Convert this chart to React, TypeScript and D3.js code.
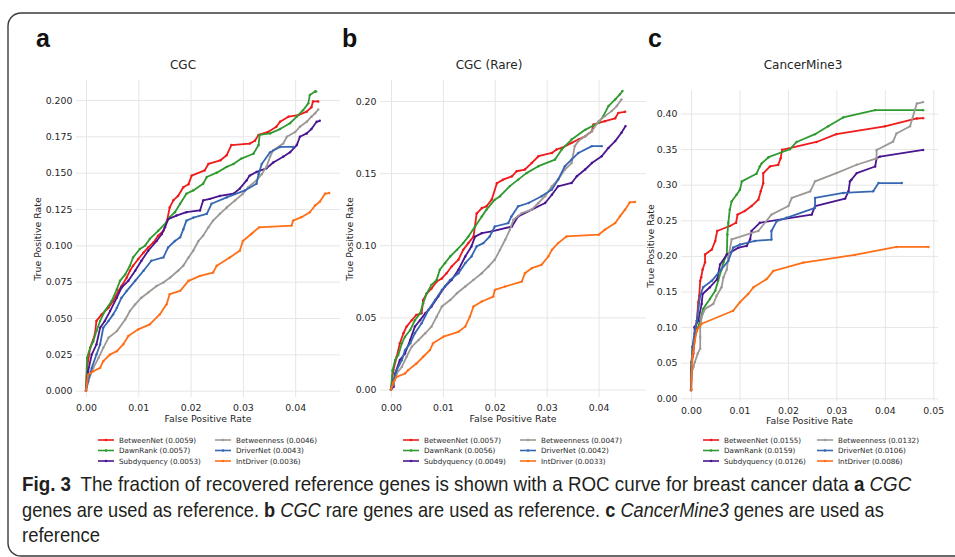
import React, { useRef, useEffect } from 'react';
import * as d3 from 'd3';

type Pt = [number, number];

// methods, in legend order (column-major), and their colours
const methods = ['BetweenNet', 'DawnRank', 'Subdyquency', 'Betweenness', 'DriverNet', 'IntDriver'];
const methodColors = ['#f01a1a', '#2f9a2f', '#4a1590', '#9d9894', '#3767b3', '#ff6f17'];

// partial AUC shown in the legends
const aucA = ['0.0059', '0.0057', '0.0053', '0.0046', '0.0043', '0.0036'];
const aucB = ['0.0057', '0.0056', '0.0049', '0.0047', '0.0042', '0.0033'];
const aucC = ['0.0155', '0.0159', '0.0126', '0.0132', '0.0106', '0.0086'];

// ticks
const xTicksAB = [0, 0.01, 0.02, 0.03, 0.04];
const xTicksC = [0, 0.01, 0.02, 0.03, 0.04, 0.05];
const yTicksA = [0, 0.025, 0.05, 0.075, 0.1, 0.125, 0.15, 0.175, 0.2];
const yTicksB = [0, 0.05, 0.1, 0.15, 0.2];
const yTicksC = [0, 0.05, 0.1, 0.15, 0.2, 0.25, 0.3, 0.35, 0.4];

// ---- panel a: CGC  ([fpr, tpr]) ----
const aBetweenNet: Pt[] = [[0,0],[0.0002,0.0157],[0.0008,0.0295],[0.0017,0.0387],[0.002,0.048],[0.003,0.0525],[0.0043,0.057],[0.0052,0.0617],[0.0062,0.0687],[0.0068,0.072],[0.0078,0.0779],[0.0084,0.0825],[0.009,0.086],[0.01,0.0906],[0.011,0.095],[0.0119,0.0986],[0.0129,0.102],[0.0138,0.1067],[0.0148,0.11],[0.0155,0.117],[0.016,0.126],[0.0167,0.131],[0.0176,0.134],[0.0186,0.14],[0.0196,0.142],[0.0202,0.148],[0.0227,0.1516],[0.0234,0.156],[0.0257,0.1585],[0.0269,0.162],[0.0278,0.169],[0.0313,0.17],[0.0323,0.172],[0.033,0.176],[0.0348,0.178],[0.0364,0.1816],[0.0371,0.185],[0.0387,0.1885],[0.0406,0.1896],[0.0422,0.192],[0.0431,0.195],[0.0434,0.199],[0.0444,0.199]];
const aDawnRank: Pt[] = [[0,0],[0.0002,0.0226],[0.0008,0.0295],[0.0014,0.034],[0.002,0.041],[0.0027,0.048],[0.0036,0.0548],[0.0049,0.0617],[0.0059,0.0698],[0.0065,0.0756],[0.0075,0.08],[0.0084,0.086],[0.009,0.0917],[0.0103,0.0975],[0.0113,0.0998],[0.0122,0.1044],[0.0138,0.11],[0.0154,0.116],[0.016,0.1194],[0.017,0.1228],[0.018,0.1286],[0.0192,0.1355],[0.0205,0.1378],[0.0224,0.1424],[0.0231,0.147],[0.025,0.15],[0.0269,0.154],[0.0282,0.156],[0.0297,0.1597],[0.032,0.163],[0.033,0.169],[0.0332,0.176],[0.0352,0.177],[0.0371,0.18],[0.039,0.184],[0.0403,0.1885],[0.0415,0.193],[0.0425,0.1977],[0.0428,0.2035],[0.0438,0.2058],[0.044,0.2058]];
const aSubdyquency: Pt[] = [[0,0],[0.0004,0.0134],[0.0011,0.0249],[0.002,0.0318],[0.0027,0.0433],[0.0036,0.048],[0.0046,0.0548],[0.0059,0.064],[0.0068,0.071],[0.0081,0.0756],[0.0094,0.0825],[0.0106,0.0894],[0.0119,0.0963],[0.0135,0.103],[0.0145,0.1078],[0.0151,0.1124],[0.0157,0.118],[0.0173,0.1205],[0.0192,0.1228],[0.0218,0.124],[0.0224,0.1309],[0.0237,0.132],[0.0256,0.134],[0.0282,0.1355],[0.0294,0.139],[0.0307,0.1447],[0.0313,0.148],[0.0326,0.1505],[0.0345,0.153],[0.0358,0.157],[0.0377,0.161],[0.039,0.164],[0.0403,0.169],[0.0409,0.1747],[0.0422,0.177],[0.0431,0.18],[0.0441,0.185],[0.0447,0.1857]];
const aBetweenness: Pt[] = [[0,0],[0.0004,0.0065],[0.0014,0.0157],[0.0024,0.0226],[0.0033,0.0295],[0.0043,0.0364],[0.0059,0.041],[0.0075,0.049],[0.0084,0.0548],[0.0094,0.0594],[0.0106,0.064],[0.0119,0.0675],[0.0135,0.072],[0.0148,0.0744],[0.0161,0.0779],[0.0176,0.0825],[0.0186,0.086],[0.0196,0.0917],[0.0205,0.0963],[0.0215,0.103],[0.0224,0.1067],[0.0234,0.1124],[0.0243,0.117],[0.0256,0.1217],[0.0269,0.126],[0.0285,0.1309],[0.03,0.1355],[0.031,0.14],[0.0326,0.1447],[0.0336,0.149],[0.0345,0.154],[0.0352,0.161],[0.0358,0.1654],[0.0377,0.17],[0.0384,0.1747],[0.04,0.178],[0.0409,0.1816],[0.0422,0.185],[0.0431,0.1885],[0.0438,0.1908],[0.0444,0.1935]];
const aDriverNet: Pt[] = [[0,0],[0.0004,0.0065],[0.0011,0.0157],[0.002,0.0249],[0.0027,0.0318],[0.0033,0.0433],[0.0043,0.048],[0.0052,0.0525],[0.0059,0.057],[0.0068,0.064],[0.0078,0.0687],[0.0094,0.0756],[0.011,0.0825],[0.0125,0.0894],[0.0148,0.0917],[0.0157,0.0986],[0.017,0.103],[0.018,0.1055],[0.0186,0.111],[0.0192,0.117],[0.0205,0.119],[0.0231,0.1217],[0.024,0.1286],[0.0269,0.133],[0.0304,0.1378],[0.0326,0.1424],[0.033,0.149],[0.0336,0.156],[0.0352,0.164],[0.0371,0.1677],[0.0396,0.1677]];
const aIntDriver: Pt[] = [[0,0],[0.0004,0.011],[0.0014,0.0134],[0.0027,0.0157],[0.0033,0.0203],[0.0046,0.0249],[0.0059,0.0272],[0.0071,0.0318],[0.0081,0.0376],[0.01,0.0422],[0.0122,0.0456],[0.0141,0.0525],[0.0154,0.0594],[0.016,0.0664],[0.018,0.0687],[0.0196,0.0756],[0.0218,0.079],[0.0243,0.0813],[0.025,0.086],[0.0275,0.0917],[0.0294,0.0963],[0.03,0.103],[0.0316,0.1078],[0.0331,0.1124],[0.0393,0.1136],[0.0396,0.117],[0.0412,0.1194],[0.0428,0.1228],[0.0438,0.1274],[0.0447,0.13],[0.0457,0.1355],[0.0465,0.136]];

// ---- panel b: CGC (Rare) ----
const bBetweenNet: Pt[] = [[0,0],[0.00045,0.0134],[0.0011,0.0227],[0.0017,0.032],[0.0024,0.039],[0.003,0.0436],[0.004,0.048],[0.0049,0.0517],[0.0059,0.0528],[0.0062,0.062],[0.0069,0.0667],[0.0078,0.07],[0.0088,0.0748],[0.0098,0.077],[0.0107,0.0806],[0.0117,0.0853],[0.013,0.09],[0.0139,0.0968],[0.0149,0.1015],[0.0159,0.106],[0.0165,0.122],[0.0175,0.1258],[0.0184,0.127],[0.0194,0.1316],[0.0204,0.143],[0.0216,0.1455],[0.0233,0.1478],[0.0242,0.1513],[0.0258,0.1525],[0.0271,0.157],[0.0284,0.1617],[0.031,0.164],[0.0319,0.1664],[0.0329,0.1675],[0.0348,0.171],[0.0361,0.1733],[0.0374,0.1756],[0.0387,0.179],[0.039,0.1837],[0.0412,0.186],[0.0432,0.188],[0.0438,0.1918],[0.0451,0.1925]];
const bDawnRank: Pt[] = [[0,0],[0.0003,0.0134],[0.0008,0.0204],[0.0014,0.0239],[0.0021,0.032],[0.0027,0.0366],[0.0037,0.0412],[0.0046,0.048],[0.0056,0.0528],[0.0062,0.0598],[0.0069,0.0667],[0.0078,0.0725],[0.0088,0.076],[0.0094,0.083],[0.0104,0.0876],[0.0114,0.0922],[0.0127,0.0968],[0.0139,0.1015],[0.0149,0.106],[0.0162,0.113],[0.0175,0.12],[0.0184,0.1247],[0.02,0.1316],[0.021,0.134],[0.0229,0.141],[0.0245,0.1455],[0.0261,0.15],[0.0284,0.1548],[0.0316,0.1594],[0.0329,0.1664],[0.0348,0.1733],[0.0374,0.18],[0.04,0.1849],[0.0409,0.1895],[0.0419,0.1965],[0.0432,0.2011],[0.0441,0.2046],[0.0446,0.2069]];
const bSubdyquency: Pt[] = [[0,0],[0.0005,0.0019],[0.0008,0.0111],[0.0017,0.0204],[0.0027,0.025],[0.0037,0.0343],[0.0046,0.0436],[0.0056,0.048],[0.0066,0.0528],[0.0078,0.0575],[0.0091,0.0644],[0.0104,0.0714],[0.0117,0.076],[0.013,0.083],[0.0143,0.0922],[0.0155,0.0992],[0.0162,0.106],[0.0175,0.1084],[0.0194,0.1096],[0.0233,0.113],[0.0245,0.12],[0.0271,0.1247],[0.0297,0.1293],[0.031,0.135],[0.0322,0.1409],[0.0348,0.1432],[0.0358,0.1478],[0.0374,0.1525],[0.0387,0.157],[0.0406,0.1617],[0.0419,0.1675],[0.0432,0.1722],[0.0444,0.178],[0.0452,0.1826]];
const bBetweenness: Pt[] = [[0,0],[0.0005,0.0042],[0.0011,0.0111],[0.0021,0.0158],[0.003,0.0227],[0.004,0.0297],[0.0053,0.0343],[0.0066,0.039],[0.0078,0.0436],[0.0088,0.0505],[0.0098,0.0575],[0.0114,0.062],[0.0127,0.0667],[0.0143,0.0714],[0.0159,0.076],[0.0175,0.0806],[0.0188,0.0853],[0.02,0.09],[0.021,0.0968],[0.022,0.1038],[0.0229,0.1107],[0.0236,0.1177],[0.0252,0.1223],[0.0271,0.1247],[0.0284,0.1293],[0.0297,0.134],[0.031,0.1409],[0.0322,0.1455],[0.0335,0.1525],[0.0348,0.157],[0.0354,0.1687],[0.0361,0.1722],[0.0374,0.1756],[0.0387,0.179],[0.04,0.186],[0.0412,0.1895],[0.0425,0.193],[0.0435,0.1965],[0.0444,0.2011]];
const bDriverNet: Pt[] = [[0,0],[0.0005,0.0065],[0.0011,0.0134],[0.0021,0.0204],[0.0027,0.0273],[0.0037,0.032],[0.0046,0.039],[0.0059,0.0459],[0.0072,0.0551],[0.0085,0.062],[0.0098,0.069],[0.0114,0.076],[0.013,0.0806],[0.0143,0.0876],[0.0155,0.0922],[0.0165,0.0992],[0.0178,0.1015],[0.019,0.106],[0.02,0.113],[0.0226,0.1154],[0.0232,0.12],[0.0245,0.127],[0.0265,0.1293],[0.029,0.134],[0.031,0.1386],[0.0322,0.1455],[0.0335,0.1548],[0.0348,0.1594],[0.0361,0.164],[0.0387,0.1687],[0.0406,0.1687]];
const bIntDriver: Pt[] = [[0,0],[0.0005,0.0053],[0.0011,0.0088],[0.0027,0.0111],[0.0033,0.0134],[0.0049,0.018],[0.0062,0.0227],[0.0075,0.0273],[0.0081,0.032],[0.0101,0.0366],[0.013,0.04],[0.0143,0.0436],[0.0152,0.0505],[0.0159,0.0575],[0.0175,0.061],[0.0197,0.0644],[0.02,0.069],[0.022,0.0714],[0.0252,0.0748],[0.0258,0.0806],[0.0271,0.0841],[0.029,0.0864],[0.0303,0.0922],[0.031,0.0968],[0.0322,0.1015],[0.0338,0.1061],[0.04,0.1073],[0.0412,0.1107],[0.0432,0.1154],[0.0441,0.12],[0.0451,0.1247],[0.046,0.1297],[0.047,0.13]];

// ---- panel c: CancerMine3 ----
const cBetweenNet: Pt[] = [[0,0.0116],[0,0.0256],[0.0001,0.051],[0.0005,0.063],[0.0008,0.086],[0.0012,0.109],[0.0015,0.135],[0.0017,0.144],[0.0019,0.165],[0.0021,0.17],[0.0024,0.181],[0.0029,0.191],[0.0029,0.202],[0.0043,0.209],[0.005,0.221],[0.0054,0.235],[0.008,0.242],[0.0093,0.2465],[0.0096,0.258],[0.0111,0.263],[0.0125,0.27],[0.0139,0.279],[0.0144,0.2907],[0.0149,0.302],[0.0149,0.316],[0.0163,0.3256],[0.018,0.328],[0.0185,0.337],[0.0188,0.349],[0.0259,0.36],[0.03,0.371],[0.04,0.382],[0.0466,0.393],[0.0479,0.3935]];
const cDawnRank: Pt[] = [[0,0.0116],[0,0.035],[0.0001,0.051],[0.0003,0.072],[0.0006,0.081],[0.0012,0.095],[0.0019,0.109],[0.0025,0.1256],[0.0039,0.1395],[0.005,0.151],[0.0056,0.165],[0.0063,0.181],[0.0067,0.191],[0.0074,0.202],[0.0075,0.23],[0.0077,0.2465],[0.008,0.265],[0.0084,0.2767],[0.0094,0.286],[0.0101,0.293],[0.0105,0.3047],[0.0135,0.3153],[0.0142,0.3256],[0.0146,0.33],[0.016,0.3386],[0.0204,0.3498],[0.0218,0.36],[0.0256,0.371],[0.0283,0.382],[0.0314,0.3944],[0.038,0.4047],[0.0479,0.4047]];
const cSubdyquency: Pt[] = [[0,0.0116],[0.0001,0.035],[0.0002,0.051],[0.0005,0.072],[0.0008,0.0907],[0.0007,0.1],[0.0015,0.109],[0.0022,0.1326],[0.0024,0.1465],[0.0039,0.156],[0.0054,0.1674],[0.006,0.188],[0.0074,0.202],[0.0098,0.2116],[0.0115,0.214],[0.0122,0.2233],[0.0125,0.235],[0.0142,0.2465],[0.0249,0.258],[0.0256,0.27],[0.0318,0.2805],[0.0325,0.2907],[0.0328,0.3047],[0.0331,0.307],[0.0342,0.3163],[0.038,0.3256],[0.0383,0.337],[0.039,0.3395],[0.0479,0.3488]];
const cBetweenness: Pt[] = [[0,0.0116],[0.0001,0.035],[0.0005,0.044],[0.0008,0.051],[0.0014,0.063],[0.0019,0.07],[0.0019,0.086],[0.0019,0.1],[0.0022,0.114],[0.0029,0.1256],[0.0046,0.1326],[0.0053,0.144],[0.0063,0.156],[0.0067,0.17],[0.0074,0.181],[0.0077,0.1977],[0.0084,0.2233],[0.0139,0.235],[0.0166,0.258],[0.0201,0.27],[0.0208,0.2814],[0.0246,0.2907],[0.0256,0.3047],[0.03,0.3163],[0.0342,0.328],[0.0383,0.337],[0.0383,0.3488],[0.0417,0.3605],[0.0424,0.372],[0.0452,0.382],[0.0466,0.414],[0.0479,0.416]];
const cDriverNet: Pt[] = [[0,0.0116],[0.0001,0.044],[0.0003,0.072],[0.0007,0.0907],[0.0012,0.109],[0.0019,0.144],[0.0025,0.156],[0.0043,0.165],[0.006,0.179],[0.0077,0.193],[0.0087,0.2116],[0.0101,0.216],[0.0132,0.221],[0.0166,0.223],[0.0166,0.235],[0.0177,0.2488],[0.0197,0.2535],[0.0256,0.2674],[0.0256,0.2814],[0.0314,0.2884],[0.0376,0.2907],[0.0387,0.3023],[0.0435,0.3023]];
const cIntDriver: Pt[] = [[0.0001,0.0116],[0.0001,0.0256],[0.0003,0.058],[0.0008,0.081],[0.0012,0.0953],[0.0022,0.1047],[0.0087,0.123],[0.0101,0.135],[0.0118,0.1465],[0.0129,0.156],[0.0156,0.1674],[0.017,0.179],[0.0232,0.1907],[0.0338,0.2014],[0.0424,0.2126],[0.049,0.2126]];

const App = () => {
  const chartRef = useRef<SVGSVGElement | null>(null);

  useEffect(() => {
    const svg = d3.select(chartRef.current);
    svg.selectAll('*').remove();

    const font = "'DejaVu Sans', sans-serif";
    const ink = '#262626';

    // outer frame
    svg.append('rect')
      .attr('x', 8).attr('y', 13)
      .attr('width', 970).attr('height', 543)
      .attr('rx', 13)
      .attr('fill', 'none')
      .attr('stroke', '#3a3a3a')
      .attr('stroke-width', 1.4);

    const panels = [
      { letter: 'a', letterX: 36, title: 'CGC', titleX: 183, left: 76, right: 340, top: 80, bottom: 397,
        xMax: 0.04, xPx: [86, 295.2], yMax: 0.2, yPx: [390.7, 100], xTicks: xTicksAB, yTicks: yTicksA,
        yFmt: '.3f', yLab: [38, 239], xPad: 7, xLabY: 422, legX: [98, 215],
        auc: aucA, curves: [aBetweenNet, aDawnRank, aSubdyquency, aBetweenness, aDriverNet, aIntDriver] },
      { letter: 'b', letterX: 342, title: 'CGC (Rare)', titleX: 489, left: 380, right: 646, top: 80, bottom: 397,
        xMax: 0.04, xPx: [391, 598.6], yMax: 0.2, yPx: [389.5, 101], xTicks: xTicksAB, yTicks: yTicksB,
        yFmt: '.2f', yLab: [350, 239], xPad: 7, xLabY: 422, legX: [403, 520],
        auc: aucB, curves: [bBetweenNet, bDawnRank, bSubdyquency, bBetweenness, bDriverNet, bIntDriver] },
      { letter: 'c', letterX: 648, title: 'CancerMine3', titleX: 803, left: 681, right: 938, top: 90, bottom: 401,
        xMax: 0.05, xPx: [691, 933.3], yMax: 0.4, yPx: [398.3, 113.5], xTicks: xTicksC, yTicks: yTicksC,
        yFmt: '.2f', yLab: [651, 246], xPad: 6, xLabY: 424, legX: [703, 817],
        auc: aucC, curves: [cBetweenNet, cDawnRank, cSubdyquency, cBetweenness, cDriverNet, cIntDriver] },
    ];

    panels.forEach(p => {
      const x = d3.scaleLinear().domain([0, p.xMax]).range(p.xPx);
      const y = d3.scaleLinear().domain([0, p.yMax]).range(p.yPx);
      const g = svg.append('g');

      // panel letter + title
      g.append('text')
        .attr('x', p.letterX).attr('y', 47)
        .attr('font-family', "'Liberation Sans', Arial, sans-serif")
        .attr('font-weight', 'bold').attr('font-size', 25)
        .attr('fill', '#111')
        .text(p.letter);
      g.append('text')
        .attr('x', p.titleX).attr('y', 69)
        .attr('text-anchor', 'middle')
        .attr('font-family', font).attr('font-size', 12)
        .attr('fill', ink)
        .text(p.title);

      // y axis with horizontal grid
      const yAxis = g.append('g')
        .attr('transform', `translate(${p.left},0)`)
        .call(d3.axisLeft(y).tickValues(p.yTicks).tickFormat(d3.format(p.yFmt))
          .tickSize(-(p.right - p.left)).tickPadding(3.5));
      yAxis.select('.domain').remove();

      // x axis with vertical grid
      const xAxis = g.append('g')
        .attr('transform', `translate(0,${p.bottom})`)
        .call(d3.axisBottom(x).tickValues(p.xTicks).tickFormat(d3.format('.2f'))
          .tickSize(-(p.bottom - p.top)).tickPadding(p.xPad));
      xAxis.select('.domain').remove();

      [yAxis, xAxis].forEach(ax => {
        ax.attr('font-family', font).attr('font-size', 9.4);
        ax.selectAll('.tick line').attr('stroke', '#e6e6e6').attr('stroke-width', 1);
        ax.selectAll('.tick text').attr('fill', ink);
      });

      // axis labels
      g.append('text')
        .attr('transform', `translate(${p.yLab[0]},${p.yLab[1]}) rotate(-90)`)
        .attr('text-anchor', 'middle').attr('dy', '0.35em')
        .attr('font-family', font).attr('font-size', 9.4).attr('fill', ink)
        .text('True Positive Rate');
      g.append('text')
        .attr('x', (p.left + p.right) / 2).attr('y', p.xLabY)
        .attr('text-anchor', 'middle')
        .attr('font-family', font).attr('font-size', 9.4).attr('fill', ink)
        .text('False Positive Rate');

      // curves
      const line = d3.line<Pt>().x(d => x(d[0])).y(d => y(d[1]));
      p.curves.forEach((pts, i) => {
        const cg = g.append('g');
        cg.append('path')
          .attr('d', line(pts))
          .attr('fill', 'none')
          .attr('stroke', methodColors[i])
          .attr('stroke-width', 1.8)
          .attr('stroke-linejoin', 'round');
        cg.selectAll('circle')
          .data(pts)
          .enter().append('circle')
          .attr('cx', d => x(d[0]))
          .attr('cy', d => y(d[1]))
          .attr('r', 1.2)
          .attr('fill', methodColors[i]);
      });

      // legend, two columns of three
      const rowY = [440, 450.5, 461];
      methods.forEach((m, i) => {
        const lx = p.legX[Math.floor(i / 3)];
        const ly = rowY[i % 3];
        const lg = g.append('g');
        lg.append('line')
          .attr('x1', lx).attr('x2', lx + 16)
          .attr('y1', ly).attr('y2', ly)
          .attr('stroke', methodColors[i]).attr('stroke-width', 1.6);
        lg.append('circle')
          .attr('cx', lx + 8).attr('cy', ly).attr('r', 1.3)
          .attr('fill', methodColors[i]);
        lg.append('text')
          .attr('x', lx + 21).attr('y', ly).attr('dy', '0.35em')
          .attr('font-family', font).attr('font-size', 7.2).attr('fill', ink)
          .text(`${m} (${p.auc[i]})`);
      });
    });

    // caption: each line squeezed horizontally to the width it has in the figure
    const capFont = "'Liberation Sans Narrow', 'Liberation Sans', Arial, sans-serif";
    const captionLines: [string, string][][] = [
      [['b', 'Fig. 3'], ['n', '\u2002The fraction of recovered reference genes is shown with a ROC curve for breast cancer data '], ['b', 'a'], ['n', ' '], ['i', 'CGC']],
      [['n', 'genes are used as reference. '], ['b', 'b'], ['n', ' '], ['i', 'CGC'], ['n', ' rare genes are used as reference. '], ['b', 'c'], ['n', ' '], ['i', 'CancerMine3'], ['n', ' genes are used as']],
      [['n', 'reference']],
    ];
    const capY = [491, 517, 542];
    const capW = [890, 862, 78];
    captionLines.forEach((parts, li) => {
      const lineG = svg.append('g');
      const t = lineG.append('text')
        .attr('x', 0).attr('y', 0)
        .attr('font-family', capFont).attr('font-size', 20)
        .attr('fill', '#231f20')
        .style('white-space', 'pre');
      parts.forEach(([k, s]) => {
        t.append('tspan')
          .attr('font-weight', k === 'b' ? 'bold' : 'normal')
          .attr('font-style', k === 'i' ? 'italic' : 'normal')
          .text(s);
      });
      const natural = (t.node() as SVGTextElement).getComputedTextLength() || capW[li];
      const sx = capW[li] / natural;
      lineG.attr('transform', `translate(22,${capY[li]}) scale(${sx},1)`);
    });
  }, []);

  return (
    <svg
      ref={chartRef}
      width={955}
      height={557}
      style={{ position: 'absolute', left: 0, top: 0, background: '#fff' }}
    />
  );
};

export default App;
